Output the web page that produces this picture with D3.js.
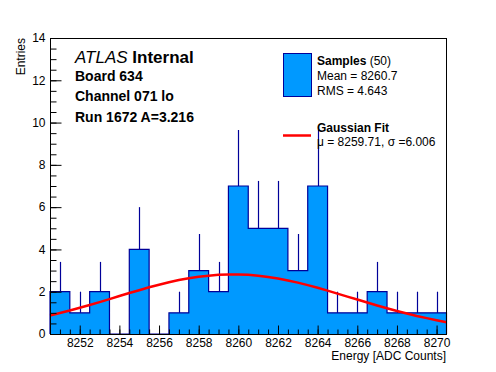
<!DOCTYPE html>
<html><head><meta charset="utf-8">
<script src="https://cdn.jsdelivr.net/npm/d3@7"></script>
<style>
html,body{margin:0;padding:0;background:#fff;}
svg{display:block;font-family:"Liberation Sans",Arial,Helvetica,sans-serif;}
</style></head>
<body>
<svg id="c" width="496" height="372"></svg>
<script>
// ---- data ----
const binCenters = [8251,8252,8253,8254,8255,8256,8257,8258,8259,8260,8261,8262,8263,8264,8265,8266,8267,8268,8269,8270];
const counts     = [2,1,2,0,4,0,1,3,2,7,5,5,3,7,1,1,2,1,1,1];
const errTop     = [3.41,2,3.41,0,6,0,2,4.73,3.41,9.65,7.24,7.24,4.73,9.65,2,2,3.41,2,2,2];
const fitX = [8250.5,8251,8251.5,8252,8252.5,8253,8253.5,8254,8254.5,8255,8255.5,8256,8256.5,8257,8257.5,8258,8258.5,8259,8259.5,8260,8260.5,8261,8261.5,8262,8262.5,8263,8263.5,8264,8264.5,8265,8265.5,8266,8266.5,8267,8267.5,8268,8268.5,8269,8269.5,8270,8270.5];
const fitY = [0.87,0.99,1.11,1.24,1.37,1.51,1.65,1.80,1.94,2.07,2.21,2.33,2.45,2.55,2.64,2.71,2.76,2.80,2.82,2.82,2.80,2.76,2.70,2.62,2.53,2.43,2.31,2.19,2.05,1.91,1.77,1.63,1.49,1.35,1.22,1.09,0.97,0.85,0.75,0.65,0.56];
const xTicks = [8252,8254,8256,8258,8260,8262,8264,8266,8268,8270];
const yTicks = [0,2,4,6,8,10,12,14];
const infoLines = ["Board 634","Channel 071 lo","Run 1672 A=3.216"];

const fillC = "#0099ff", lineC = "#000099";
const svg = d3.select("#c");
const L = 50, R = 446.5, T = 38, B = 334;
const x = d3.scaleLinear().domain([8250.5, 8270.5]).range([L, R]);
const y = d3.scaleLinear().domain([0, 14]).range([B, T]);

// histogram area + outline
let pts = [[x(8250.5), y(0)]];
binCenters.forEach((c, i) => {
  pts.push([x(c - 0.5), y(counts[i])]);
  pts.push([x(c + 0.5), y(counts[i])]);
});
pts.push([x(8270.5), y(0)]);
const line = d3.line();
svg.append("path").attr("d", line(pts) + "Z").attr("fill", fillC).attr("stroke", "none");

// error bars (upper part)
svg.append("g").selectAll("line").data(binCenters.filter((c, i) => counts[i] > 0)).join("line")
  .attr("x1", c => Math.round(x(c)) + 0.5).attr("x2", c => Math.round(x(c)) + 0.5)
  .attr("y1", c => y(counts[binCenters.indexOf(c)]))
  .attr("y2", c => y(errTop[binCenters.indexOf(c)]))
  .attr("stroke", lineC).attr("stroke-width", 1.2);

svg.append("path").attr("d", line(pts)).attr("fill", "none").attr("stroke", lineC).attr("stroke-width", 1.2);

// fit curve
svg.append("path")
  .attr("d", d3.line().x(d => x(d[0])).y(d => y(d[1]))(fitX.map((v, i) => [v, fitY[i]])))
  .attr("fill", "none").attr("stroke", "#ff0000").attr("stroke-width", 2.5);

// frame
svg.append("rect").attr("x", L + 0.5).attr("y", T + 0.5).attr("width", R - L - 0.5).attr("height", B - T)
  .attr("fill", "none").attr("stroke", "#000").attr("stroke-width", 1);

// axes
const fs = "12px";
const yMaj = d3.axisLeft(y).tickValues(yTicks).tickSizeInner(-11).tickSizeOuter(0).tickPadding(5).tickFormat(d3.format("d"));
const gy = svg.append("g").attr("transform", `translate(${L + 0.5},0)`).call(yMaj);
const yMin = d3.axisLeft(y).tickValues(d3.range(0, 14.01, 0.5)).tickSizeInner(-6).tickSizeOuter(0).tickFormat("");
const gy2 = svg.append("g").attr("transform", `translate(${L + 0.5},0)`).call(yMin);
const xMaj = d3.axisBottom(x).tickValues(xTicks).tickSizeInner(-9).tickSizeOuter(0).tickPadding(3.5).tickFormat(d3.format("d"));
const gx = svg.append("g").attr("transform", `translate(0,${B + 0.5})`).call(xMaj);
const xMin = d3.axisBottom(x).tickValues(d3.range(8251, 8270.01, 0.5)).tickSizeInner(-5).tickSizeOuter(0).tickFormat("");
const gx2 = svg.append("g").attr("transform", `translate(0,${B + 0.5})`).call(xMin);
[gy, gy2, gx, gx2].forEach(g => {
  g.select(".domain").remove();
  g.attr("font-family", null).attr("font-size", fs);
  g.selectAll("text").attr("fill", "#000");
  g.selectAll("line").attr("stroke", "#000");
});

// axis titles
svg.append("text").attr("x", 446).attr("y", 360).attr("text-anchor", "end").attr("font-size", fs).text("Energy [ADC Counts]");
svg.append("text").attr("transform", "translate(24.5,38) rotate(-90)").attr("text-anchor", "end").attr("font-size", fs).text("Entries");

// ATLAS label
const at = svg.append("text").attr("x", 75).attr("y", 63).attr("font-size", "17px");
at.append("tspan").attr("font-style", "italic").text("ATLAS ");
at.append("tspan").attr("font-weight", "bold").text("Internal");
svg.append("g").selectAll("text").data(infoLines).join("text")
  .attr("x", 75).attr("y", (d, i) => 80.5 + i * 20.5).attr("font-size", "14px").attr("font-weight", "bold").text(d => d);

// legend
svg.append("rect").attr("x", 283.5).attr("y", 53.5).attr("width", 28).attr("height", 43)
  .attr("fill", fillC).attr("stroke", lineC).attr("stroke-width", 1);
const lfs = "12px";
const t1 = svg.append("text").attr("x", 317).attr("y", 65).attr("font-size", lfs);
t1.append("tspan").attr("font-weight", "bold").text("Samples");
t1.append("tspan").text(" (50)");
svg.append("text").attr("x", 317).attr("y", 80).attr("font-size", lfs).text("Mean = 8260.7");
svg.append("text").attr("x", 317).attr("y", 94.5).attr("font-size", lfs).text("RMS = 4.643");
svg.append("line").attr("x1", 283).attr("x2", 311).attr("y1", 135.5).attr("y2", 135.5).attr("stroke", "#ff0000").attr("stroke-width", 2.5);
svg.append("text").attr("x", 317).attr("y", 131.5).attr("font-size", lfs).attr("font-weight", "bold").text("Gaussian Fit");
svg.append("text").attr("x", 317).attr("y", 146).attr("font-size", lfs).text("\u03bc = 8259.71, \u03c3 =6.006");
</script>
</body></html>
